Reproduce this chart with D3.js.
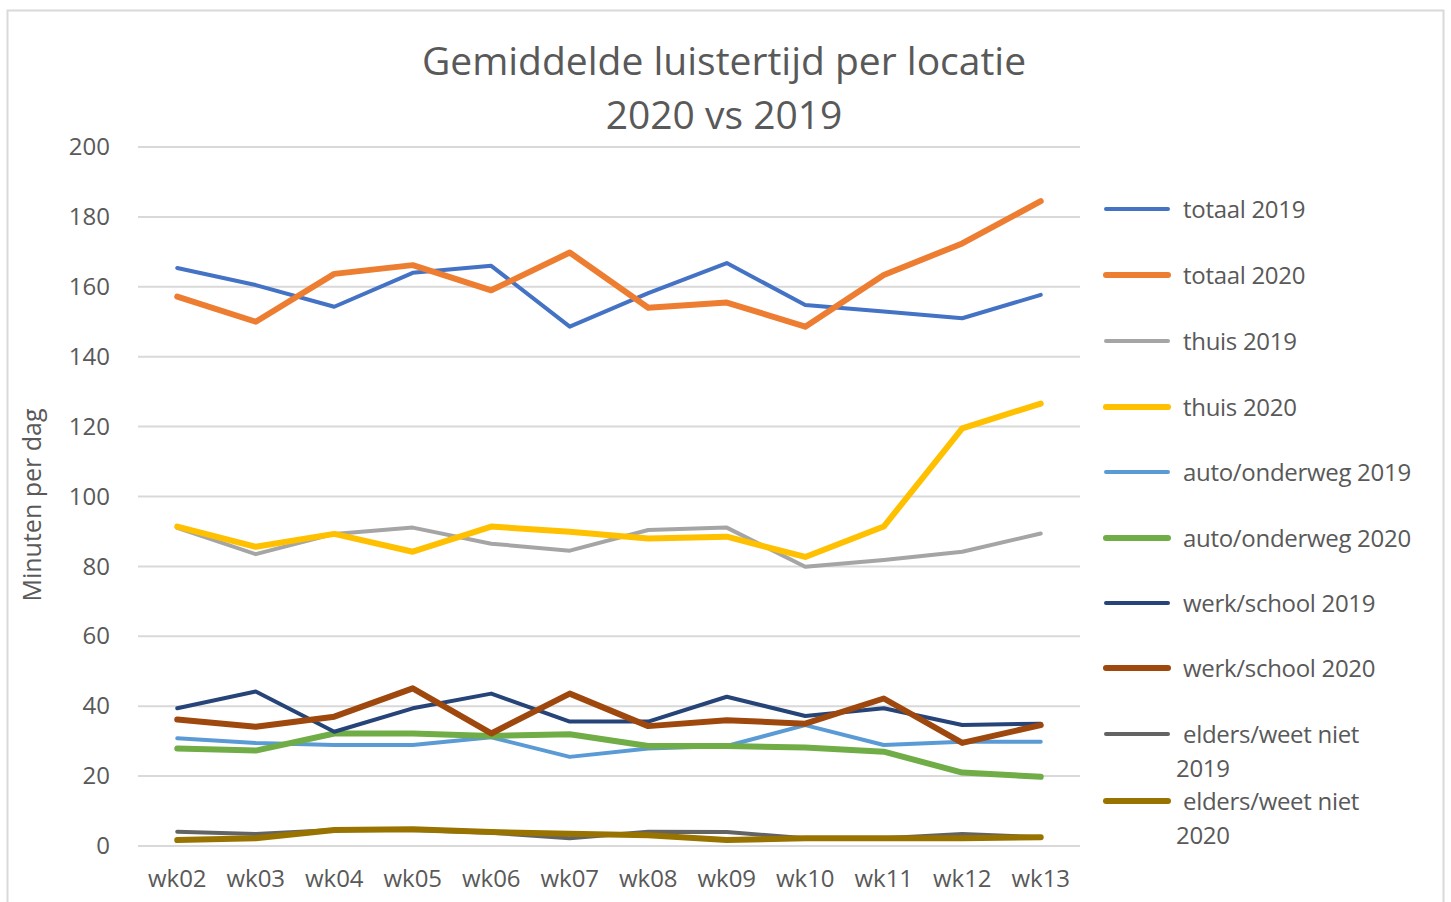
<!DOCTYPE html>
<html>
<head>
<meta charset="utf-8">
<script src="https://cdn.jsdelivr.net/npm/d3@7"></script>
<style>
  body { margin: 0; background: #fff; }
  text { font-family: "Open Sans", "Noto Sans", sans-serif; fill: #595959; }
</style>
</head>
<body>
<div id="chart"></div>
<script>
// weeks on the x axis
var weeks = ["wk02", "wk03", "wk04", "wk05", "wk06", "wk07", "wk08", "wk09", "wk10", "wk11", "wk12", "wk13"];
var yTicks = [0, 20, 40, 60, 80, 100, 120, 140, 160, 180, 200];

// minutes per day
var totaal2019 = [165.4, 160.5, 154.3, 164, 166, 148.6, 158.2, 166.8, 154.8, 152.9, 151, 157.7];
var totaal2020 = [157.2, 150, 163.7, 166.2, 159, 169.8, 154, 155.5, 148.6, 163.4, 172.4, 184.5];
var thuis2019 = [91, 83.5, 89.3, 91.1, 86.5, 84.5, 90.4, 91.1, 79.9, 81.8, 84.2, 89.4];
var thuis2020 = [91.4, 85.6, 89.3, 84.2, 91.4, 89.9, 88, 88.5, 82.7, 91.4, 119.5, 126.6];
var auto2019 = [30.8, 29.5, 28.9, 28.9, 31.1, 25.5, 27.9, 28.6, 34.6, 28.9, 29.8, 29.8];
var auto2020 = [27.9, 27.3, 32.2, 32.2, 31.5, 32, 28.6, 28.6, 28.2, 27, 21, 19.8];
var werk2019 = [39.4, 44.2, 32.7, 39.4, 43.6, 35.6, 35.6, 42.7, 37.2, 39.4, 34.6, 35];
var werk2020 = [36.2, 34.1, 37, 45.1, 32.2, 43.6, 34.3, 36, 35, 42.2, 29.5, 34.6];
var elders2019 = [4.1, 3.4, 4.6, 4.6, 3.8, 2.2, 4.1, 4, 2.2, 2.2, 3.4, 2.5];
var elders2020 = [1.7, 2.2, 4.6, 4.8, 4, 3.5, 3.1, 1.7, 2.2, 2.2, 2.2, 2.5];

var seriesNames = ["totaal 2019", "totaal 2020", "thuis 2019", "thuis 2020", "auto/onderweg 2019",
                   "auto/onderweg 2020", "werk/school 2019", "werk/school 2020", "elders/weet niet 2019", "elders/weet niet 2020"];
var seriesValues = [totaal2019, totaal2020, thuis2019, thuis2020, auto2019, auto2020, werk2019, werk2020, elders2019, elders2020];
var seriesColors = ["#4472C4", "#ED7D31", "#A5A5A5", "#FFC000", "#5B9BD5", "#70AD47", "#264478", "#9E480E", "#636363", "#997300"];

var W = 1451, H = 902;
var margin = {top: 147, right: 371, bottom: 56, left: 138};
var width = W - margin.left - margin.right;
var height = H - margin.top - margin.bottom;

var svg = d3.select("#chart").append("svg")
    .attr("width", W)
    .attr("height", H);

// outer chart border
svg.append("rect")
   .attr("x", 7.5).attr("y", 10.5)
   .attr("width", 1436).attr("height", 900)
   .attr("fill", "none")
   .attr("stroke", "#d9d9d9")
   .attr("stroke-width", 2);

svg.append("text")
   .attr("x", 724).attr("y", 75)
   .attr("text-anchor", "middle")
   .style("font-size", "39px")
   .text("Gemiddelde luistertijd per locatie");
svg.append("text")
   .attr("x", 724).attr("y", 129)
   .attr("text-anchor", "middle")
   .style("font-size", "39px")
   .text("2020 vs 2019");

var g = svg.append("g")
    .attr("transform", "translate(" + margin.left + "," + margin.top + ")");

var x = d3.scaleBand().domain(weeks).range([0, width]);
var y = d3.scaleLinear().domain([0, 200]).range([height, 0]);

// grid lines
g.append("g")
 .selectAll("line")
 .data(yTicks)
 .enter()
 .append("line")
 .attr("x1", 0).attr("x2", width)
 .attr("y1", function(d) { return y(d); })
 .attr("y2", function(d) { return y(d); })
 .attr("stroke", "#d9d9d9")
 .attr("stroke-width", 2);

var yAxis = g.append("g")
 .call(d3.axisLeft(y).tickValues(yTicks).tickSize(0).tickPadding(28));
yAxis.select(".domain").remove();
yAxis.selectAll("text").style("font-size", "24px").attr("fill", "#595959");

var xAxis = g.append("g")
 .attr("transform", "translate(0," + height + ")")
 .call(d3.axisBottom(x).tickSize(0).tickPadding(24));
xAxis.select(".domain").remove();
xAxis.selectAll("text").style("font-size", "24px").attr("fill", "#595959");

svg.append("text")
   .attr("transform", "translate(41,505) rotate(-90)")
   .attr("text-anchor", "middle")
   .style("font-size", "25px")
   .text("Minuten per dag");

var line = d3.line()
    .x(function(d, i) { return x(weeks[i]) + x.bandwidth() / 2; })
    .y(function(d) { return y(d); });

function lineWidth(i) { return i % 2 === 1 ? 6 : 4; }

g.selectAll(".series")
 .data(seriesValues)
 .enter()
 .append("path")
 .attr("class", "series")
 .attr("d", line)
 .attr("fill", "none")
 .attr("stroke", function(d, i) { return seriesColors[i]; })
 .attr("stroke-width", function(d, i) { return lineWidth(i); })
 .attr("stroke-linejoin", "round")
 .attr("stroke-linecap", "round");

// legend
var legendY = [209, 275, 341, 407, 472, 538, 603, 668, 734, 801];
var legend = svg.selectAll(".legend")
    .data(seriesNames)
    .enter()
    .append("g")
    .attr("class", "legend")
    .attr("transform", function(d, i) { return "translate(1106," + legendY[i] + ")"; });

legend.append("line")
      .attr("x1", 0).attr("x2", 62)
      .attr("stroke", function(d, i) { return seriesColors[i]; })
      .attr("stroke-width", function(d, i) { return lineWidth(i); })
      .attr("stroke-linecap", "round");

legend.each(function(d) {
    var t = d3.select(this).append("text")
        .attr("x", 77).attr("y", 9)
        .style("font-size", "24px")
        .style("letter-spacing", "-0.3px");
    if (d.indexOf("elders") === 0) {
        var parts = d.split(" ");
        t.append("tspan").attr("x", 77).text(parts[0] + " " + parts[1]);
        t.append("tspan").attr("x", 70).attr("dy", 34).text(parts[2]);
    } else {
        t.text(d);
    }
});
</script>
</body>
</html>
